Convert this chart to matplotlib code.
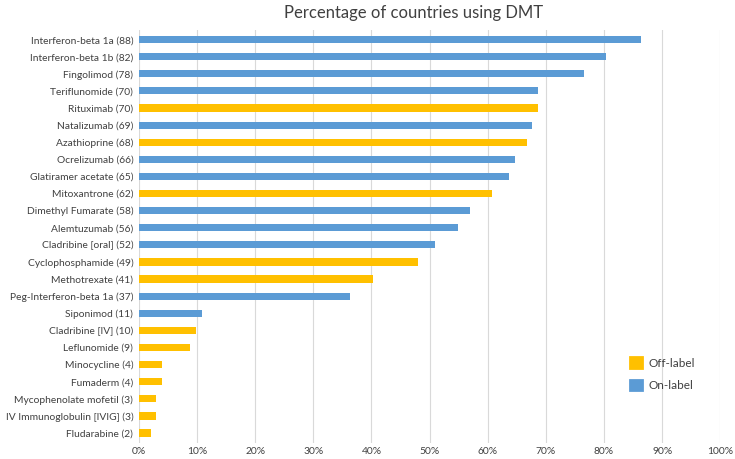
import matplotlib.pyplot as plt
from matplotlib.ticker import PercentFormatter
from matplotlib.patches import Patch

plt.rcParams['font.family'] = ['Lato', 'DejaVu Sans']

drugs = [
    "Interferon-beta 1a (88)", "Interferon-beta 1b (82)", "Fingolimod (78)",
    "Teriflunomide (70)", "Rituximab (70)", "Natalizumab (69)",
    "Azathioprine (68)", "Ocrelizumab (66)", "Glatiramer acetate (65)",
    "Mitoxantrone (62)", "Dimethyl Fumarate (58)", "Alemtuzumab (56)",
    "Cladribine [oral] (52)", "Cyclophosphamide (49)", "Methotrexate (41)",
    "Peg-Interferon-beta 1a (37)", "Siponimod (11)", "Cladribine [IV] (10)",
    "Leflunomide (9)", "Minocycline (4)", "Fumaderm (4)",
    "Mycophenolate mofetil (3)", "IV Immunoglobulin [IVIG] (3)", "Fludarabine (2)",
]
percent = [86.3, 80.4, 76.5, 68.6, 68.6, 67.6, 66.7, 64.7, 63.7, 60.8, 56.9, 54.9,
           51.0, 48.0, 40.2, 36.3, 10.8, 9.8, 8.8, 3.9, 3.9, 2.9, 2.9, 2.0]
off_label = [False, False, False, False, True, False, True, False, False, True, False, False,
             False, True, True, False, False, True, True, True, True, True, True, True]

BLUE = "#5B9BD5"
ORANGE = "#FFC000"

fig = plt.figure(figsize=(7.35, 4.59), dpi=100)
ax = fig.add_axes([0.189, 0.035, 0.791, 0.9])

colors = [ORANGE if o else BLUE for o in off_label]
ypos = list(range(len(drugs)))
ax.barh(ypos, percent, height=0.42, color=colors, zorder=3)

ax.set_ylim(len(drugs) - 0.42, -0.57)
ax.set_xlim(0, 100)
ax.set_xticks(range(0, 101, 10))
ax.xaxis.set_major_formatter(PercentFormatter(decimals=0))
ax.set_yticks(ypos)
ax.set_yticklabels(drugs)

ax.grid(axis="x", color="#D9D9D9", linewidth=0.8, zorder=0)
for s in ax.spines.values():
    s.set_visible(False)
ax.tick_params(axis="both", length=0, labelsize=7.4, colors="#404040")
ax.tick_params(axis="y", pad=4)
ax.tick_params(axis="x", pad=3)

fig.text(0.562, 0.972, "Percentage of countries using DMT", ha="center", va="center",
         fontsize=12, color="#404040")

# rounded squares in the legend, like the original
handles = [
    Patch(facecolor=ORANGE, edgecolor=ORANGE, linewidth=2, joinstyle="round", label="Off-label"),
    Patch(facecolor=BLUE, edgecolor=BLUE, linewidth=2, joinstyle="round", label="On-label"),
]
ax.legend(handles=handles, loc="lower right", bbox_to_anchor=(0.975, 0.1), frameon=False,
          fontsize=8.5, handlelength=0.95, handleheight=0.95, labelspacing=0.95,
          handletextpad=0.6, labelcolor="#404040")

fig.savefig("out.png", dpi=100)
